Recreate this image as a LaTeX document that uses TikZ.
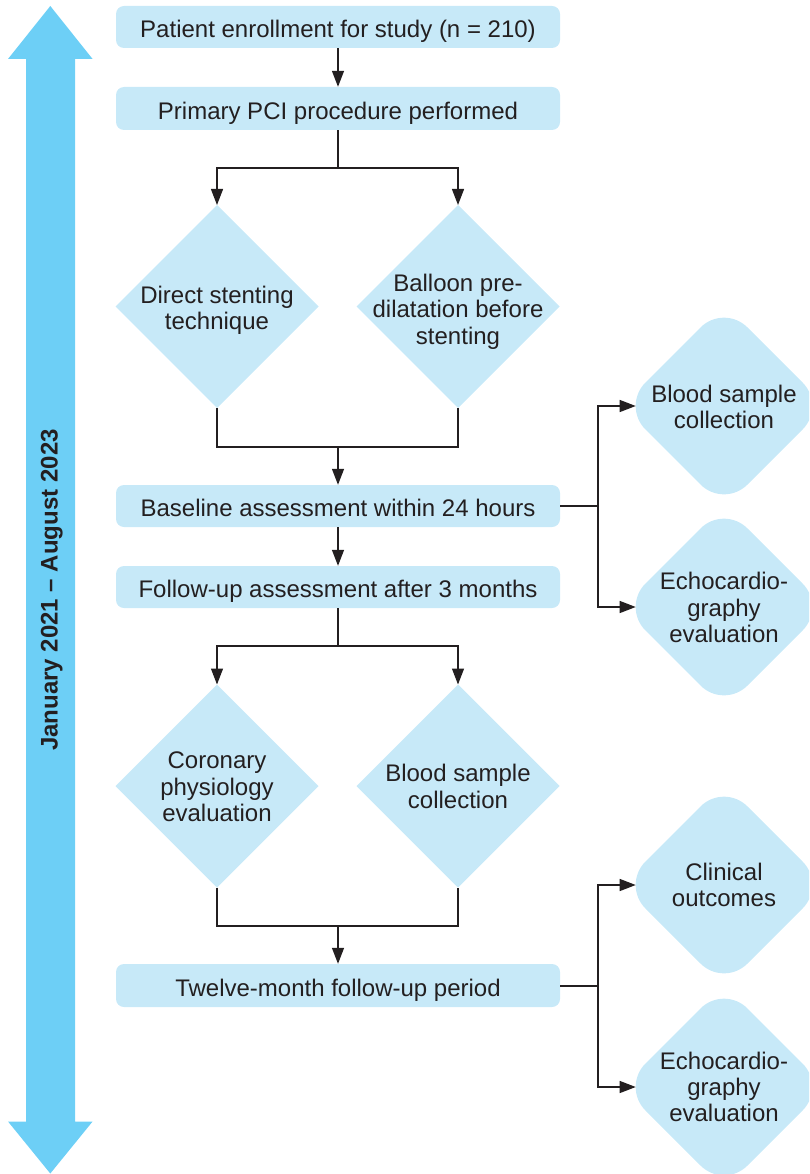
\documentclass[tikz,border=0pt]{standalone}
\usepackage{fontspec}
\setmainfont{Liberation Sans}
\usetikzlibrary{arrows.meta,shapes.geometric}
\definecolor{boxblue}{HTML}{C7E9F8}
\definecolor{barblue}{HTML}{6DCFF6}
\definecolor{ink}{HTML}{231F20}
\begin{document}
\begin{tikzpicture}[x=1pt,y=-1pt,
  every node/.style={text=ink},
  txt/.style={font=\fontsize{24}{26.3}\selectfont, align=center, inner sep=0pt},
  stage/.style={fill=boxblue, rounded corners=8pt, minimum width=444pt,
    minimum height=42pt, inner sep=0pt, font=\fontsize{24}{26}\selectfont,
    text height=21.4pt, text depth=0pt},
  choice/.style={diamond, fill=boxblue, minimum width=203pt,
    minimum height=203pt, inner sep=0pt, outer sep=0pt},
  roundchoice/.style={choice, rounded corners=33pt, minimum width=204pt,
    minimum height=204pt},
  link/.style={draw=ink, line width=1.3pt},
  arr/.style={link, -{Triangle[length=16pt,width=12pt]}},
  toround/.style={arr, shorten >=-13.7pt},
]
\clip (0,0) rectangle (809,1174);

% timeline bar with arrowheads at both ends
\fill[barblue] (50.3,6) -- (92.6,59) -- (75,59) -- (75,1121.5) -- (92.6,1121.5)
  -- (50.3,1173.5) -- (8,1121.5) -- (26,1121.5) -- (26,59) -- (8,59) -- cycle;
\node[font=\bfseries\fontsize{24}{26}\selectfont, rotate=90, anchor=base,
  inner sep=0pt] (period) at (57.5,590) {January 2021 – August 2023};

% main stages
\node[stage] (b1) at (338,27) {Patient enrollment for study (n = 210)};
\node[stage, minimum height=43pt] (b2) at (338,108.5) {Primary PCI procedure performed};
\node[stage] (b3) at (338,506) {Baseline assessment within 24 hours};
\node[stage] (b4) at (338,587) {Follow-up assessment after 3 months};
\node[stage, minimum height=43pt] (b5) at (338,985.5) {Twelve-month follow-up period};

% decision diamonds
\node[choice] (d1) at (217,306.5) {};
\node[choice] (d2) at (458,306.5) {};
\node[choice] (d3) at (217,786) {};
\node[choice] (d4) at (458,786) {};
\node[txt] (d1t) at ([yshift=-4pt]d1.center) {Direct stenting\\technique};
\node[txt] (d2t) at ([yshift=-5pt]d2.center) {Balloon pre-\\dilatation before\\stenting};
\node[txt] (d3t) at ([yshift=-1pt]d3.center) {Coronary\\physiology\\evaluation};
\node[txt] (d4t) at ([yshift=-0.5pt]d4.center) {Blood sample\\collection};

% side assessments
\node[roundchoice] (r1) at (724,406) {};
\node[roundchoice] (r2) at (724,607) {};
\node[roundchoice] (r3) at (724,885) {};
\node[roundchoice] (r4) at (724,1087) {};
\node[txt] (r1t) at ([yshift=-1pt]r1.center) {Blood sample\\collection};
\node[txt] (r2t) at ([yshift=-0.5pt]r2.center) {Echocardio-\\graphy\\evaluation};
\node[txt] (r3t) at (r3) {Clinical\\outcomes};
\node[txt] (r4t) at (r4) {Echocardio-\\graphy\\evaluation};

% junction points
\coordinate (s1) at (338,168);
\coordinate (j1) at (338,447);
\coordinate (s2) at (338,646);
\coordinate (j2) at (338,926);
\coordinate (k1) at (598,506);
\coordinate (k2) at (598,986);

% connectors
\draw[arr] (b1) -- (b2);
\draw[link] (b2) -- (s1);
\draw[arr] (s1) -| (d1.north);
\draw[arr] (s1) -| (d2.north);
\draw[link] (d1.south) |- (j1) -| (d2.south);
\draw[arr] (j1) -- (b3);
\draw[arr] (b3) -- (b4);
\draw[link] (b4) -- (s2);
\draw[arr] (s2) -| (d3.north);
\draw[arr] (s2) -| (d4.north);
\draw[link] (d3.south) |- (j2) -| (d4.south);
\draw[arr] (j2) -- (b5);

\draw[link] (b3.east) -- (k1);
\draw[toround] (k1) |- (r1.west);
\draw[toround] (k1) |- (r2.west);
\draw[link] (b5.east |- k2) -- (k2);
\draw[toround] (k2) |- (r3.west);
\draw[toround] (k2) |- (r4.west);
\end{tikzpicture}
\end{document}
